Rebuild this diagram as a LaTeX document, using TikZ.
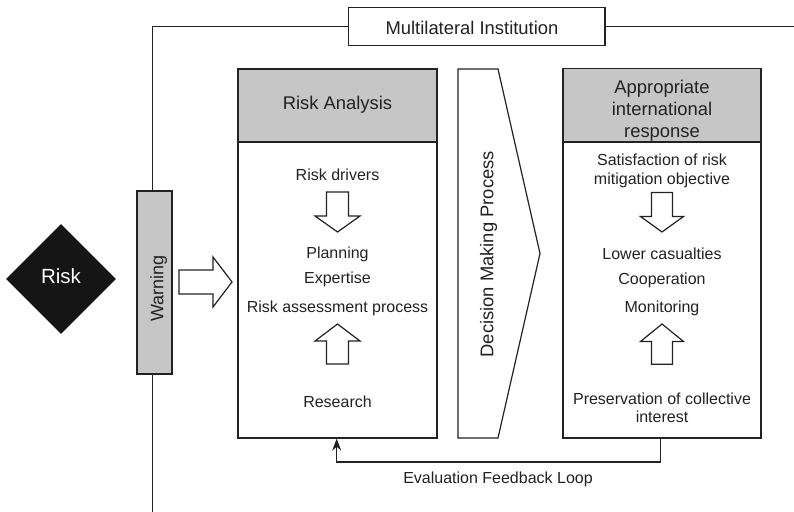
\documentclass[tikz,border=0pt]{standalone}
\usepackage{fontspec}
\setmainfont{Liberation Sans}
\usetikzlibrary{shapes.geometric,arrows.meta}
\definecolor{ink}{HTML}{222222}
\definecolor{headgray}{HTML}{C6C6C6}
\definecolor{riskblack}{HTML}{151515}

\begin{document}
\begin{tikzpicture}[x=1pt,y=-1pt,
  line/.style={draw=ink,line width=1.2pt},
  box/.style={line,rectangle,inner sep=0pt,fill=white},
  headbox/.style={box,fill=headgray},
  bodytxt/.style={font=\fontsize{16}{19}\selectfont,text=ink,anchor=base,inner sep=0pt},
  headtxt/.style={font=\fontsize{18.4}{22}\selectfont,text=ink,anchor=base,inner sep=0pt},
  blockarrow/.style={line,fill=white,line join=miter},
  loop/.style={draw=ink,line width=1.1pt,-{Stealth[length=12pt,width=9pt]}},
]
\useasboundingbox (0,0) rectangle (794,511);

% top institution box and its frame lines
\node[box,minimum width=256.7pt,minimum height=38.4pt] (mi) at (476.7,26.5) {};
\node[headtxt] (mitext) at (472,34.3) {Multilateral Institution};

% warning bar and risk diamond
\node[headbox,minimum width=35pt,minimum height=183pt] (warn) at (154.5,282.5) {};
\node[headtxt,rotate=90,font=\fontsize{18}{22}\selectfont] (warntext) at (163.3,288.3) {Warning};
\node[diamond,fill=riskblack,minimum width=110pt,minimum height=110pt,inner sep=0pt] (risk) at (61,279) {};
\node[headtxt,text=white,font=\fontsize{20.5}{24}\selectfont] (risktext) at (61,283.3) {Risk};

\coordinate (cornerL) at (152.5,26.5);
\coordinate (bottomL) at (152.5,512);
\coordinate (edgeR) at (795,26.5);
\draw[line] (mi.west) -- (cornerL) -- (cornerL |- warn.north);
\draw[line] (cornerL |- warn.south) -- (bottomL);
\draw[line] (mi.east) -- (edgeR);

% warning feeds risk analysis
\draw[blockarrow] (179,270) -- (213,270) -- (213,257) -- (232,282) -- (213,307) -- (213,294) -- (179,294) -- cycle;

% risk analysis column
\node[headbox,minimum width=199pt,minimum height=73pt] (rahead) at (337.5,105.5) {};
\node[box,minimum width=199pt,minimum height=296pt] (rabody) at (337.5,290) {};
\node[headtxt] (ratitle) at (337.5,109.3) {Risk Analysis};
\node[bodytxt] (drivers) at (337.5,180.5) {Risk drivers};
\draw[blockarrow] (326.5,192) -- (348.5,192) -- (348.5,216) -- (360,216) -- (337.5,232) -- (315,216) -- (326.5,216) -- cycle;
\node[bodytxt] (planning) at (337.5,258) {Planning};
\node[bodytxt] (expertise) at (337.5,283.5) {Expertise};
\node[bodytxt] (assess) at (337.5,312) {Risk assessment process};
\draw[blockarrow] (326.5,364) -- (348.5,364) -- (348.5,341) -- (360,341) -- (337.5,324) -- (315,341) -- (326.5,341) -- cycle;
\node[bodytxt] (research) at (337.5,407) {Research};

% decision making chevron
\draw[line,fill=white,line join=miter] (458,69) -- (498,69) -- (540,253.5) -- (498,438) -- (458,438) -- cycle;
\node[headtxt,rotate=90] (decision) at (493.3,254.2) {Decision Making Process};

% international response column
\node[headbox,minimum width=198pt,minimum height=73.5pt] (rrhead) at (662,105.25) {};
\node[box,minimum width=198pt,minimum height=296pt] (rrbody) at (662,290) {};
\node[headtxt] (rrt1) at (662,93.5) {Appropriate};
\node[headtxt] (rrt2) at (662,115.5) {international};
\node[headtxt] (rrt3) at (662,137.3) {response};
\node[bodytxt] (satis1) at (662,165.5) {Satisfaction of risk};
\node[bodytxt] (satis2) at (662,184.5) {mitigation objective};
\draw[blockarrow] (651.5,192.5) -- (672.5,192.5) -- (672.5,216.5) -- (683.5,216.5) -- (662,232) -- (640.5,216.5) -- (651.5,216.5) -- cycle;
\node[bodytxt] (lower) at (662,259) {Lower casualties};
\node[bodytxt] (coop) at (662,284.5) {Cooperation};
\node[bodytxt] (monit) at (662,312) {Monitoring};
\draw[blockarrow] (651.5,364.3) -- (672.5,364.3) -- (672.5,341.5) -- (683.5,341.5) -- (662,324) -- (640.5,341.5) -- (651.5,341.5) -- cycle;
\node[bodytxt] (pres1) at (662,404) {Preservation of collective};
\node[bodytxt] (pres2) at (662,422) {interest};

% evaluation feedback loop
\coordinate (fbR) at (660.3,462);
\coordinate (fbL) at (336.7,462);
\draw[loop] (rrbody.south -| fbR) -- (fbR) -- (fbL) -- (rabody.south -| fbL);
\node[bodytxt] (fbtext) at (498,483.5) {Evaluation Feedback Loop};
\end{tikzpicture}
\end{document}
